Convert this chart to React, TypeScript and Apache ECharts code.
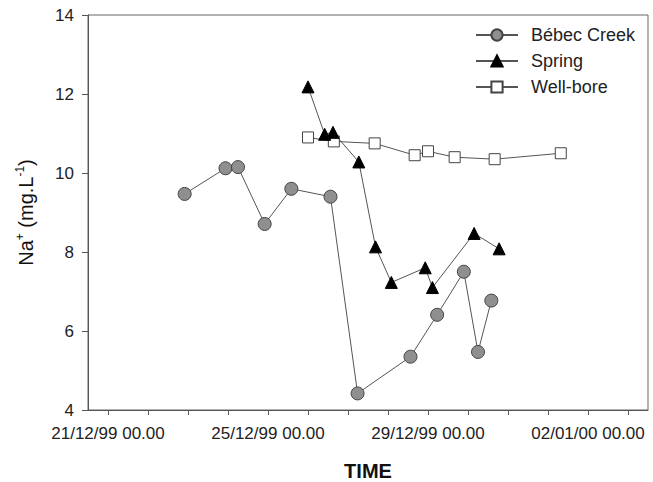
import React, { useEffect, useRef } from "react";
import * as echarts from "echarts";

// Sampling times (local date-time, dd/mm/yy) and Na+ values (mg/L)
const creekTimes = [
  "1999-12-22T22:00", "1999-12-23T22:30", "1999-12-24T06:00", "1999-12-24T22:00",
  "1999-12-25T14:00", "1999-12-26T13:30", "1999-12-27T05:45", "1999-12-28T13:30",
  "1999-12-29T05:30", "1999-12-29T21:30", "1999-12-30T06:00", "1999-12-30T14:00",
];
const creekValues = [9.47, 10.12, 10.15, 8.71, 9.6, 9.4, 4.42, 5.35, 6.41, 7.5, 5.47, 6.77];

const springTimes = [
  "1999-12-26T00:00", "1999-12-26T10:00", "1999-12-26T15:00", "1999-12-27T06:30",
  "1999-12-27T16:30", "1999-12-28T02:00", "1999-12-28T22:20", "1999-12-29T02:40",
  "1999-12-30T03:40", "1999-12-30T18:40",
];
const springValues = [12.18, 10.98, 11.03, 10.28, 8.13, 7.23, 7.6, 7.1, 8.47, 8.08];

const wellTimes = [
  "1999-12-26T00:00", "1999-12-26T15:30", "1999-12-27T16:00", "1999-12-28T16:00",
  "1999-12-29T00:00", "1999-12-29T16:00", "1999-12-30T16:00", "2000-01-01T07:40",
];
const wellValues = [10.9, 10.8, 10.75, 10.45, 10.55, 10.4, 10.35, 10.5];

const xStart = "1999-12-20T12:00";
const xEnd = "2000-01-03T12:00";
const labelDays = ["1999-12-21", "1999-12-25", "1999-12-29", "2000-01-02"];
const tickDays = [
  "1999-12-21", "1999-12-22", "1999-12-23", "1999-12-24", "1999-12-25", "1999-12-26",
  "1999-12-27", "1999-12-28", "1999-12-29", "1999-12-30", "1999-12-31", "2000-01-01",
  "2000-01-02", "2000-01-03",
];
const yTicks = [4, 6, 8, 10, 12, 14];

const seriesNames = ["Bébec Creek", "Spring", "Well-bore"];

function ts(s: string): number {
  const [d, t] = s.split("T");
  const [y, m, day] = d.split("-").map(Number);
  let hh = 0, mm = 0;
  if (t) {
    const p = t.split(":").map(Number);
    hh = p[0];
    mm = p[1];
  }
  return Date.UTC(y, m - 1, day, hh, mm);
}

function pad(n: number) {
  return n < 10 ? "0" + n : "" + n;
}

function fmt(v: number): string {
  const d = new Date(v);
  return (
    pad(d.getUTCDate()) + "/" + pad(d.getUTCMonth() + 1) + "/" +
    pad(d.getUTCFullYear() % 100) + " " + pad(d.getUTCHours()) + "." + pad(d.getUTCMinutes())
  );
}

function zip(times: string[], vals: number[]) {
  return times.map((t, i) => [ts(t), vals[i]]);
}

const FONT = "'Liberation Sans', Arial, sans-serif";

export default function App() {
  const ref = useRef<HTMLDivElement>(null);
  useEffect(() => {
    if (!ref.current) return;
    const chart = echarts.init(ref.current, null, { renderer: "svg" });
    const lineStyle = { color: "#555", width: 1 };
    chart.setOption({
      animation: false,
      backgroundColor: "#fff",
      textStyle: { fontFamily: FONT },
      grid: {
        left: 88,
        top: 15,
        right: 5,
        bottom: 72,
        containLabel: false,
        outerBoundsMode: "none",
        show: true,
        borderColor: "#666",
        borderWidth: 1,
        backgroundColor: "transparent",
      },
      legend: {
        orient: "vertical",
        left: 470,
        top: 21,
        itemWidth: 42,
        itemHeight: 14,
        itemGap: 8,
        data: seriesNames,
        textStyle: { fontSize: 18, color: "#222", fontFamily: FONT, padding: [0, 0, 0, 8] },
      },
      xAxis: {
        type: "value",
        min: ts(xStart),
        max: ts(xEnd),
        name: "TIME",
        nameLocation: "middle",
        nameGap: 51,
        nameTextStyle: { fontSize: 20, fontWeight: "bold", color: "#111", fontFamily: FONT },
        axisLine: { show: true, lineStyle: { color: "#555", width: 1 } },
        axisTick: {
          show: true,
          length: 5,
          inside: false,
          customValues: tickDays.map((d) => ts(d)),
          lineStyle: { color: "#555" },
        },
        axisLabel: {
          show: true,
          customValues: labelDays.map((d) => ts(d)),
          formatter: (v: number) => fmt(v),
          fontSize: 17,
          color: "#222",
          margin: 15,
          fontFamily: FONT,
        },
        splitLine: { show: false },
      },
      yAxis: {
        type: "value",
        min: 4,
        max: 14,
        interval: 2,
        name: "{n|Na}{s|+}{n| (mg.L}{s|-1}{n|)}",
        nameLocation: "middle",
        nameRotate: 90,
        nameGap: 50,
        nameTextStyle: {
          color: "#111",
          fontFamily: FONT,
          rich: {
            n: { fontSize: 20, lineHeight: 24, fontFamily: FONT, color: "#111" },
            s: { fontSize: 12, verticalAlign: "top", fontFamily: FONT, color: "#111" },
          },
        },
        axisLine: { show: true, lineStyle: { color: "#555", width: 1 } },
        axisTick: { show: true, length: 6, inside: false, lineStyle: { color: "#555" }, customValues: yTicks },
        axisLabel: { fontSize: 17, color: "#222", margin: 14, fontFamily: FONT, customValues: yTicks },
        splitLine: { show: false },
      },
      series: [
        {
          name: seriesNames[0],
          type: "line",
          data: zip(creekTimes, creekValues),
          symbol: "circle",
          symbolSize: 13,
          lineStyle,
          itemStyle: { color: "#8f8f8f", borderColor: "#444", borderWidth: 1 },
          z: 3,
        },
        {
          name: seriesNames[1],
          type: "line",
          data: zip(springTimes, springValues),
          symbol: "triangle",
          symbolSize: 12,
          lineStyle,
          itemStyle: { color: "#000", borderColor: "#000", borderWidth: 1 },
          z: 4,
        },
        {
          name: seriesNames[2],
          type: "line",
          data: zip(wellTimes, wellValues),
          symbol: "rect",
          symbolSize: 11,
          lineStyle,
          itemStyle: { color: "#fff", borderColor: "#444", borderWidth: 1 },
          z: 2,
        },
      ],
    });
    return () => chart.dispose();
  }, []);
  return <div ref={ref} style={{ width: 653, height: 482, position: "absolute", left: 0, top: 0 }} />;
}
